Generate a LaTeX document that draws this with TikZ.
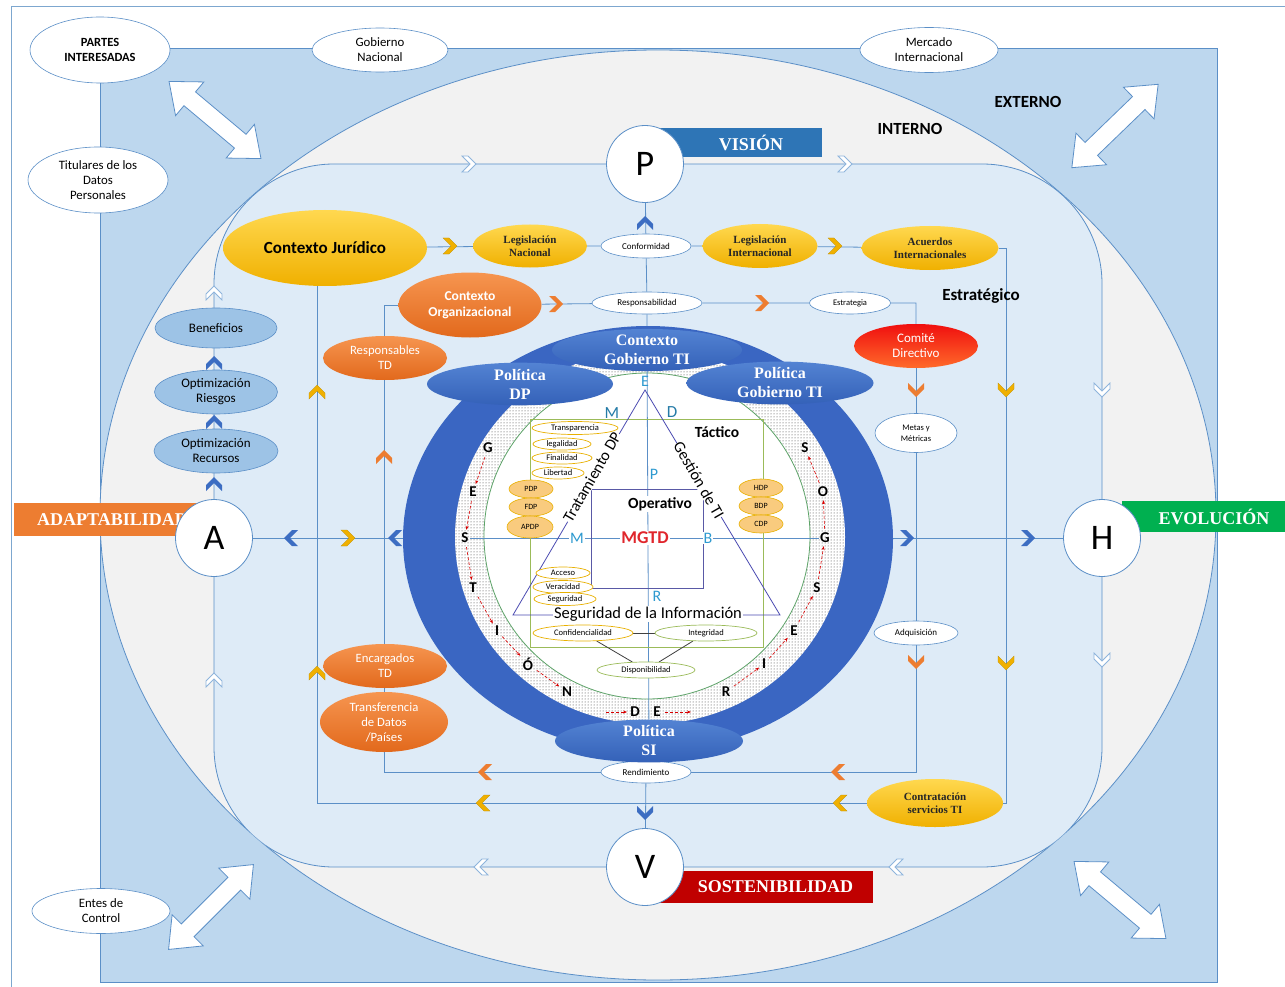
\documentclass[tikz,border=0pt]{standalone}
\usepackage{fontspec}
\setmainfont{Carlito}
\newfontfamily\tnr{Liberation Serif}
\usetikzlibrary{shapes.geometric,patterns,arrows.meta}

\definecolor{bgBlue}{HTML}{BDD7EE}
\definecolor{greyIn}{HTML}{F2F2F2}
\definecolor{rrBlue}{HTML}{DEEBF7}
\definecolor{lineBlue}{HTML}{5B8FC7}
\definecolor{frameBlue}{HTML}{7DA7CF}
\definecolor{ringBlue}{HTML}{3A66C2}
\definecolor{polA}{HTML}{5383D3}
\definecolor{polB}{HTML}{3461B8}
\definecolor{chevBlue}{HTML}{3C6DC2}
\definecolor{goldA}{HTML}{FFD84F}
\definecolor{goldB}{HTML}{F0B000}
\definecolor{goldLine}{HTML}{E8B000}
\definecolor{orgA}{HTML}{F69550}
\definecolor{orgB}{HTML}{E2691C}
\definecolor{redA}{HTML}{FF6A2A}
\definecolor{redB}{HTML}{F00F0F}
\definecolor{paleBlue}{HTML}{9DC3E6}
\definecolor{tealTxt}{HTML}{2E9AD0}
\definecolor{chipGold}{HTML}{F9CB7E}
\definecolor{visBlue}{HTML}{2E75B6}
\definecolor{evoGreen}{HTML}{00B050}
\definecolor{adaOrange}{HTML}{ED7D31}
\definecolor{sosRed}{HTML}{C00000}
\definecolor{tacGreen}{HTML}{9BBB59}
\definecolor{mgtdRed}{HTML}{E0262C}
\definecolor{openLine}{HTML}{8EB4DC}

\newcommand{\fsz}[2]{\fontsize{#1}{#2}\selectfont}

\pgfdeclarelayer{back}
\pgfdeclarelayer{wires}
\pgfdeclarelayer{ring}
\pgfdeclarelayer{inwires}
\pgfsetlayers{back,wires,ring,inwires,main}

\tikzset{
  wire/.style={draw=lineBlue, line width=0.8pt},
  hub/.style={circle, draw=lineBlue, fill=white, line width=0.8pt, minimum size=77pt, inner sep=0pt, font=\fsz{36}{36}},
  banner/.style={rectangle, inner sep=0pt, text=white, font=\tnr\bfseries\fsz{18}{18}},
  outell/.style={ellipse, draw=lineBlue, fill=white, line width=0.6pt, inner sep=0pt, align=center, font=\fsz{12.8}{15}},
  whiteell/.style={ellipse, draw=lineBlue, fill=white, line width=0.6pt, inner sep=0pt, align=center, font=\fsz{9}{11}},
  goldell/.style={ellipse, top color=goldA, bottom color=goldB, inner sep=0pt, align=center, text=black!85, font=\tnr\bfseries\fsz{11}{13}},
  orgell/.style={ellipse, top color=orgA, bottom color=orgB, inner sep=0pt, align=center, text=white, font=\fsz{12.7}{15}},
  paleell/.style={ellipse, fill=paleBlue, draw=lineBlue, line width=0.6pt, inner sep=0pt, align=center, font=\fsz{13}{15}},
  polell/.style={ellipse, top color=polA, bottom color=polB, inner sep=0pt, align=center, text=white, font=\tnr\bfseries\fsz{16}{19}},
  tagell/.style={ellipse, draw=goldLine, fill=white, line width=0.7pt, inner sep=0pt, font=\fsz{8.5}{9}},
  chipell/.style={ellipse, fill=chipGold, draw=goldLine, line width=0.6pt, inner sep=0pt, minimum width=44pt, minimum height=18pt, font=\fsz{8}{9}},
  letra/.style={inner sep=1pt, font=\bfseries\fsz{15}{15}},
  tealtag/.style={inner sep=1pt, text=tealTxt, font=\fsz{16}{16}},
  zone/.style={font=\bfseries\fsz{17}{17}},
  redarr/.style={-{Stealth[length=4pt,width=3pt]}, draw=red!85!black, densely dashed, line width=0.6pt, shorten <=3pt, shorten >=2pt},
  bluechev/.style={fill=chevBlue},
  goldchev/.style={fill=goldB, draw=goldLine!80!black, line width=0.3pt},
  orgchev/.style={fill=adaOrange},
  openchev/.style={fill=white, draw=openLine, line width=0.8pt},
  chev/.pic={\path[#1] (-7,-8) -- (-1,-8) -- (7,0) -- (-1,8) -- (-7,8) -- (1,0) -- cycle;},
  dblarr/.pic={\path[fill=white, draw=lineBlue, line width=0.8pt] (-60,0) -- (-33,-22) -- (-33,-9) -- (33,-9) -- (33,-22) -- (60,0) -- (33,22) -- (33,9) -- (-33,9) -- (-33,22) -- cycle;},
}

\begin{document}
\begin{tikzpicture}[x=1pt, y=-1pt]
    \useasboundingbox (0,0) rectangle (1285,987);

    % Background zones
    \begin{pgfonlayer}{back}
        \fill[white] (0,0) rectangle (1285,987);
        \draw[frameBlue, line width=0.8pt] (11,987) -- (11,6) -- (1285,6);
        \draw[fill=bgBlue, draw=lineBlue, line width=0.8pt] (100,48) rectangle (1217,982);
        \draw[fill=greyIn, draw=lineBlue, line width=0.8pt] (658,515) ellipse [x radius=558pt, y radius=465pt];
        \begin{scope}
            \clip (658,515) ellipse [x radius=558pt, y radius=465pt];
            \draw[fill=rrBlue, draw=lineBlue, line width=0.8pt]
                (334,164) -- (982,164) .. controls (1048,164) and (1102,218) .. (1102,284)
                -- (1102,747) .. controls (1102,813) and (1048,867) .. (982,867)
                -- (334,867) .. controls (268,867) and (214,813) .. (214,747)
                -- (214,284) .. controls (214,218) and (268,164) .. (334,164) -- cycle;
        \end{scope}
        % Double arrows
        \pic[rotate=-40] at (215,120) {dblarr};
        \pic[rotate=44] at (1115,126) {dblarr};
        \pic[rotate=45] at (211,907) {dblarr};
        \pic[rotate=-40] at (1120,900) {dblarr};
    \end{pgfonlayer}

    % Stakeholders
    \node[outell, minimum width=140pt, minimum height=66pt, font=\bfseries\fsz{12.5}{15}] (partes) at (100,50) {PARTES\\INTERESADAS};
    \node[outell, minimum width=136pt, minimum height=44pt] (gobnac) at (380,50) {Gobierno\\Nacional};
    \node[outell, minimum width=138pt, minimum height=45pt] (mercado) at (929,50) {Mercado\\Internacional};
    \node[outell, minimum width=140pt, minimum height=66pt] (titulares) at (98,180) {Titulares de los\\Datos\\Personales};
    \node[outell, minimum width=138pt, minimum height=45pt] (entes) at (101,911) {Entes de\\Control};

    % Zone labels
    \node[zone] (externo) at (1028,102) {EXTERNO};
    \node[zone] (interno) at (910,129) {INTERNO};
    \node[zone] (estrategico) at (981,296) {Estratégico};

    % Banners
    \node[banner, fill=visBlue, minimum width=182pt, minimum height=29pt] (vision) at (731,142.5) {\hspace*{40pt}VISIÓN};
    \node[banner, fill=adaOrange, minimum width=186pt, minimum height=33pt] (adapt) at (107,519.5) {\hspace*{11pt}ADAPTABILIDAD};
    \node[banner, fill=evoGreen, minimum width=170pt, minimum height=31pt] (evol) at (1207,516.5) {\hspace*{14pt}EVOLUCIÓN};
    \node[banner, fill=sosRed, minimum width=234pt, minimum height=32pt] (sost) at (756,887) {\hspace*{39pt}SOSTENIBILIDAD};

    % Hubs
    \node[hub] (P) at (645,164) {P};
    \node[hub] (A) at (214,538) {A};
    \node[hub] (H) at (1102,538) {H};
    \node[hub] (V) at (645,867) {V};

    % Legal context
    \node[goldell, minimum width=204pt, minimum height=76pt, text=black, font=\bfseries\fsz{17}{17}] (jur) at (325,248) {Contexto Jurídico};
    \node[goldell, minimum width=114pt, minimum height=43pt] (legnac) at (530,246) {Legislación\\Nacional};
    \node[whiteell, minimum width=90pt, minimum height=24pt] (conf) at (646,246) {Conformidad};
    \node[goldell, minimum width=115pt, minimum height=44pt] (legint) at (760,246) {Legislación\\Internacional};
    \node[goldell, minimum width=137pt, minimum height=44pt] (acu) at (930,248) {Acuerdos\\Internacionales};
    \node[goldell, minimum width=136pt, minimum height=48pt] (contr) at (935,803) {Contratación\\servicios TI};
    \coordinate (yR) at (1006,803);
    \coordinate (yL) at (317,803);

    % Organisational context
    \node[orgell, minimum width=143pt, minimum height=65pt, font=\bfseries\fsz{13.6}{16}] (org) at (470,305) {Contexto\\Organizacional};
    \node[whiteell, minimum width=110pt, minimum height=22pt] (resp) at (647,303) {Responsabilidad};
    \node[whiteell, minimum width=81pt, minimum height=22pt, font=\fsz{8.5}{10}] (estr) at (850,303) {Estrategia};
    \node[orgell, top color=redB, bottom color=redA, minimum width=124pt, minimum height=44pt, font=\fsz{13}{15}] (comite) at (916,346) {Comité\\Directivo};
    \node[whiteell, minimum width=82pt, minimum height=39pt, font=\fsz{8.5}{11}] (metas) at (916,433) {Metas y\\Métricas};
    \node[whiteell, minimum width=84pt, minimum height=24pt] (adq) at (916,633) {Adquisición};
    \node[whiteell, minimum width=90pt, minimum height=22pt] (rend) at (646,772) {Rendimiento};
    \node[orgell, minimum width=124pt, minimum height=44pt] (respTD) at (385,358) {Responsables\\TD};
    \node[orgell, minimum width=124pt, minimum height=44pt] (encTD) at (385,666) {Encargados\\TD};
    \node[orgell, minimum width=128pt, minimum height=60pt] (transf) at (384,722) {Transferencia\\de Datos\\/Países};
    \coordinate (oR) at (916,772);
    \coordinate (oL) at (384,772);

    % Benefits
    \node[paleell, minimum width=122pt, minimum height=40pt] (benef) at (216,328) {Beneficios};
    \node[paleell, minimum width=123pt, minimum height=44pt] (optR) at (216,392) {Optimización\\Riesgos};
    \node[paleell, minimum width=124pt, minimum height=44pt] (optRec) at (216,451) {Optimización\\Recursos};

    % Ring
    \begin{pgfonlayer}{ring}
        \fill[ringBlue] (648,539) ellipse [x radius=245pt, y radius=213pt];
        \fill[white] (650,537) ellipse [x radius=195pt, y radius=187pt];
        \fill[pattern=dots, pattern color=black!80] (650,537) ellipse [x radius=195pt, y radius=187pt];
        \draw[fill=white, draw=tacGreen!60!teal, line width=0.8pt] (647,536) circle [radius=163pt];
    \end{pgfonlayer}

    % Policies
    \node[polell, minimum width=186pt, minimum height=40pt] (pdp) at (520,384) {Política\\DP};
    \node[polell, minimum width=187pt, minimum height=40pt] (pgti) at (780,383) {Política\\Gobierno TI};
    \node[polell, minimum width=190pt, minimum height=42pt] (cgti) at (647,350) {Contexto\\Gobierno TI};
    \node[polell, minimum width=188pt, minimum height=40pt] (psi) at (649,741) {Política\\SI};

    % Gestion de riesgos
    \foreach \n/\t/\x/\y in {g1/G/488/448, g2/E/473/492, g3/S/465/538, g4/T/473/588, g5/I/497/631, g6/Ó/528/664, g7/N/567/692, g8/D/635/712, g9/E/657/712, g10/R/726/692, g11/I/764/664, g12/E/794/631, g13/S/817/588, g14/G/825/538, g15/O/823/492, g16/S/805/448}
        \node[letra] (\n) at (\x,\y) {\t};
    \coordinate (dIn) at (603,712);
    \coordinate (eOut) at (693,712);
    \foreach \a/\b in {g1/g2, g2/g3, g3/g4, g4/g5, g5/g6, g6/g7, dIn/g8, g9/eOut, g10/g11, g11/g12, g12/g13, g13/g14, g14/g15, g15/g16}
        \draw[redarr] (\a) -- (\b);

    % Inner model
    \coordinate (apex) at (645,390);
    \coordinate (triL) at (513,615);
    \coordinate (triR) at (780,615);
    \node[zone, font=\bfseries\fsz{15.5}{15.5}] (tactico) at (717,432) {Táctico};
    \node[fill=white, inner sep=1pt, font=\bfseries\fsz{15.5}{15.5}] (operativo) at (660,504) {Operativo};
    \node[fill=white, inner sep=1pt, text=mgtdRed, font=\bfseries\fsz{18}{18}] (mgtd) at (645,538) {MGTD};
    \node[tealtag, font=\fsz{16}{16}] (tE) at (645,381) {E};
    \node[tealtag, text=tealTxt!80!black, font=\fsz{17}{17}] (tM) at (612,413) {M};
    \node[tealtag, text=tealTxt!80!black, font=\fsz{17}{17}] (tD) at (672,412) {D};
    \node[tealtag] (tP) at (654,474) {P};
    \node[tealtag, fill=white] (tM2) at (577,538) {M};
    \node[tealtag, fill=white] (tB) at (708,538) {B};
    \node[tealtag] (tR) at (657,596) {R};
    \node[rotate=60, fill=white, inner sep=0.5pt, font=\fsz{16}{16}] (tratamiento) at (592,477) {Tratamiento DP};
    \node[rotate=-60, fill=white, inner sep=0.5pt, font=\fsz{16}{16}] (gestionti) at (699,480) {Gestión de TI};
    \node[fill=white, inner sep=1pt, font=\fsz{16.5}{16.5}] (seginf) at (648,614) {Seguridad de la Información};

    % Principles
    \node[tagell, minimum width=86pt, minimum height=13pt] (transp) at (575,428) {Transparencia};
    \node[tagell, minimum width=58pt, minimum height=12pt] (legal) at (562,444) {legalidad};
    \node[tagell, minimum width=60pt, minimum height=12pt] (final) at (562,458) {Finalidad};
    \node[tagell, minimum width=52pt, minimum height=12pt] (libert) at (558,473) {Libertad};
    \node[chipell] (pdpc) at (531,489) {PDP};
    \node[chipell] (fdpc) at (531,507) {FDP};
    \node[chipell, minimum width=46pt, minimum height=22pt] (apdpc) at (530,527) {APDP};
    \node[chipell] (hdpc) at (761,488) {HDP};
    \node[chipell] (bdpc) at (761,506) {BDP};
    \node[chipell] (cdpc) at (761,524) {CDP};
    \node[tagell, minimum width=54pt, minimum height=12pt] (acceso) at (563,573) {Acceso};
    \node[tagell, minimum width=60pt, minimum height=13pt] (verac) at (563,587) {Veracidad};
    \node[tagell, minimum width=62pt, minimum height=13pt] (segur) at (565,599) {Seguridad};
    \node[tagell, minimum width=100pt, minimum height=16pt] (confid) at (583,633) {Confidencialidad};
    \node[tagell, draw=tacGreen, minimum width=102pt, minimum height=16pt] (integ) at (706,633) {Integridad};
    \node[tagell, draw=tacGreen, minimum width=98pt, minimum height=16pt] (disp) at (646,670) {Disponibilidad};

    % Inner lines
    \begin{pgfonlayer}{inwires}
        \draw[wire] (cgti) -- (psi);
        \draw[wire] (g3) -- (g14);
        \draw[tacGreen, line width=0.8pt] (530,419) rectangle (763,647);
        \draw[gray!70!blue, line width=0.8pt] (591,489) rectangle (703,588);
        \draw[gray!60!blue, line width=0.8pt] (apex) -- (triL) -- (triR) -- cycle;
        \draw[black!75, line width=0.8pt] (confid) -- (integ);
        \draw[black!75, line width=0.8pt] (confid) -- (disp);
        \draw[black!75, line width=0.8pt] (integ) -- (disp);
    \end{pgfonlayer}

    % Connections
    \begin{pgfonlayer}{wires}
        \draw[wire] (jur) -- (legnac) -- (conf) -- (legint) -- (acu);
        \draw[wire] (acu.east) -| (yR) -- (contr);
        \draw[wire] (contr) -- (yL) -- (yL |- jur.south);
        \draw[wire] (org) -- (resp) -- (estr) -| (comite);
        \draw[wire] (comite) -- (metas) -- (adq) -- (oR) -- (rend) -- (oL) |- (org);
        \draw[wire] (P) -- (conf) -- (resp) -- (cgti);
        \draw[wire] (psi) -- (rend) -- (V);
        \draw[wire] (A) -- (H);
    \end{pgfonlayer}

    % Chevrons
    \foreach \x/\y/\r in {214/363/90, 214/422/90, 214/484/90, 291/538/180, 395/538/180, 907/538/0, 1028/538/0, 645/223/90, 645/813/-90}
        \pic[rotate=\r] at (\x,\y) {chev=bluechev};
    \foreach \x/\y/\r in {450/246/0, 835/246/0, 1006/390/-90, 1006/663/-90, 840/803/180, 483/803/180, 317/392/90, 317/673/90, 348/538/0}
        \pic[rotate=\r] at (\x,\y) {chev=goldchev};
    \foreach \x/\y/\r in {556/304/0, 762/303/0, 916/390/-90, 916/662/-90, 838/772/180, 485/772/180, 384/457/90}
        \pic[rotate=\r] at (\x,\y) {chev=orgchev};
    \foreach \x/\y/\r in {214/293/90, 214/680/90, 469/164/0, 845/164/0, 1102/390/-90, 1102/660/-90, 481/867/180, 896/867/180}
        \pic[rotate=\r] at (\x,\y) {chev=openchev};
\end{tikzpicture}
\end{document}
